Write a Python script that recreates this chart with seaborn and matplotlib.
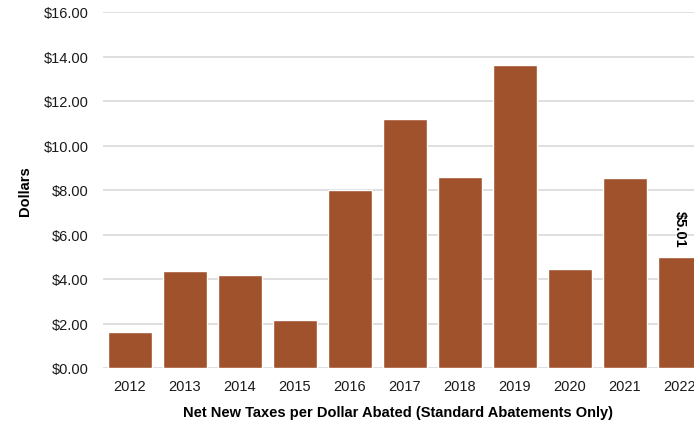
import matplotlib
matplotlib.use("Agg")
import matplotlib.pyplot as plt
import seaborn as sns
import pandas as pd
from matplotlib import font_manager

years = ["2012", "2013", "2014", "2015", "2016", "2017", "2018", "2019", "2020", "2021", "2022"]
values = [1.60, 4.37, 4.20, 2.17, 8.00, 11.20, 8.60, 13.63, 4.47, 8.52, 5.01]
yticks = [0, 2, 4, 6, 8, 10, 12, 14, 16]
label_year = "2022"
label_text = "$5.01"

sns.set_theme(style="white")
names = {f.name for f in font_manager.fontManager.ttflist}
fam = ['Liberation Sans Narrow'] if 'Liberation Sans Narrow' in names else ['Liberation Sans']
plt.rcParams['font.family'] = fam + ['DejaVu Sans']
fs = 11.5 if 'Liberation Sans Narrow' in names else 10.5

df = pd.DataFrame({"year": years, "value": values})

fig = plt.figure(figsize=(6.94, 4.27), dpi=100)
ax = fig.add_axes([102.5 / 694, 58 / 427, 605 / 694, 356 / 427])

sns.barplot(data=df, x="year", y="value", color="#A0522D", saturation=1, width=0.8, ax=ax, zorder=3)

ax.set_ylim(0, 16)
ax.set_xlim(-0.5, len(years) - 0.5)
ax.set_yticks(yticks)
ax.set_yticklabels([f"${t:.2f}" for t in yticks], fontsize=fs, color="#1a1a1a")
ax.tick_params(axis="x", labelsize=fs, colors="#1a1a1a", length=0, pad=8)
ax.tick_params(axis="y", length=0, pad=10)
ax.yaxis.grid(True, color="#d9d9d9", linewidth=1.2, zorder=0)
ax.set_axisbelow(True)
for s in ax.spines.values():
    s.set_visible(False)

ax.set_ylabel("Dollars", fontsize=fs, fontweight="bold", labelpad=8, color="black")
ax.set_xlabel("Net New Taxes per Dollar Abated (Standard Abatements Only)", fontsize=fs,
              fontweight="bold", labelpad=10, color="black")
ax.xaxis.set_label_coords((398 - 102.5) / 605, -0.105)

idx = years.index(label_year)
ax.text(idx, values[idx] + 0.45, label_text, rotation=270, ha="center", va="bottom",
        fontsize=fs, fontweight="bold", color="black")

fig.savefig("out.png", dpi=100)
